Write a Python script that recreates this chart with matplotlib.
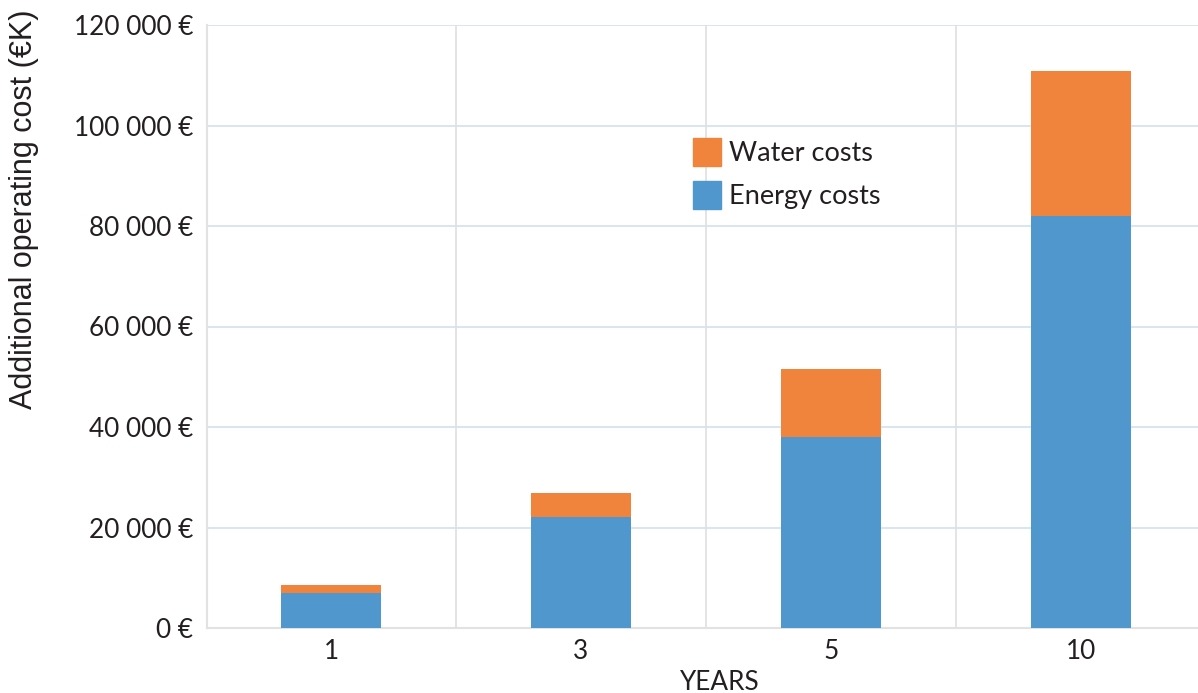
import matplotlib
matplotlib.use("Agg")
import matplotlib.pyplot as plt
from matplotlib.patches import Patch
from matplotlib import font_manager

# Data
years = ["1", "3", "5", "10"]
energy_costs = [7000, 22000, 38000, 82000]
water_costs = [1600, 4800, 13600, 28800]
y_ticks = [0, 20000, 40000, 60000, 80000, 100000, 120000]
y_tick_labels = ["0 €", "20 000 €", "40 000 €", "60 000 €", "80 000 €", "100 000 €", "120 000 €"]

ORANGE = "#F0843D"
BLUE = "#5097CD"
TEXT = "#231F20"

W, H = 1198, 693
fig = plt.figure(figsize=(W / 100, H / 100), dpi=100)
left, right, top, bottom = 207, 1198, 25, 628
ax = fig.add_axes([left / W, 1 - bottom / H, (right - left) / W, (bottom - top) / H])

x = list(range(len(years)))
ax.bar(x, energy_costs, width=0.4, color=BLUE, zorder=3, label="Energy costs")
ax.bar(x, water_costs, width=0.4, bottom=energy_costs, color=ORANGE, zorder=3, label="Water costs")

ax.set_xlim(-0.496, 3.468)
ax.set_ylim(0, 120000)

tick_font = "Lato"
ax.set_yticks(y_ticks)
ax.set_yticklabels(y_tick_labels, fontname=tick_font, fontsize=18.8, color=TEXT)
ax.set_xticks(x)
ax.set_xticklabels(years, fontname=tick_font, fontsize=18.8, color=TEXT)
ax.tick_params(axis="both", length=0)
ax.tick_params(axis="y", pad=10)
ax.tick_params(axis="x", pad=8)

# Grid: horizontal light blue, vertical light gray between categories
ax.yaxis.grid(True, color="#D5E3EE", linewidth=1.3, zorder=0)
for xv in [0.5, 1.5, 2.5, 3.5]:
    ax.axvline(xv, color="#E2E2E2", linewidth=1.3, zorder=0)

for s in ["top", "right"]:
    ax.spines[s].set_visible(False)
ax.spines["left"].set_color("#E2E2E2")
ax.spines["left"].set_linewidth(1.5)
ax.spines["bottom"].set_color("#E2E2E2")
ax.spines["bottom"].set_linewidth(1.5)
ax.set_axisbelow(True)

narrow = "Liberation Sans Narrow"
try:
    font_manager.findfont(narrow, fallback_to_default=False)
except Exception:
    narrow = "Liberation Sans"
fig.text(24 / W, 1 - 209 / H, "Additional operating cost (€K)", rotation=90,
         ha="center", va="center", fontname=narrow, fontsize=22, color=TEXT)
fig.text(720 / W, 1 - 682 / H, "YEARS", ha="center", va="center",
         fontname=tick_font, fontsize=18.8, color=TEXT)

handles = [Patch(color=ORANGE, label="Water costs"), Patch(color=BLUE, label="Energy costs")]
leg = ax.legend(handles=handles, loc="upper left", bbox_to_anchor=(669 / W, 1 - 114 / H),
                bbox_transform=fig.transFigure, frameon=False,
                prop={"family": tick_font, "size": 19.5},
                handlelength=1.02, handleheight=1.2, handletextpad=0.3, labelspacing=0.55)
for t in leg.get_texts():
    t.set_color(TEXT)

fig.savefig("out.png", dpi=100)
